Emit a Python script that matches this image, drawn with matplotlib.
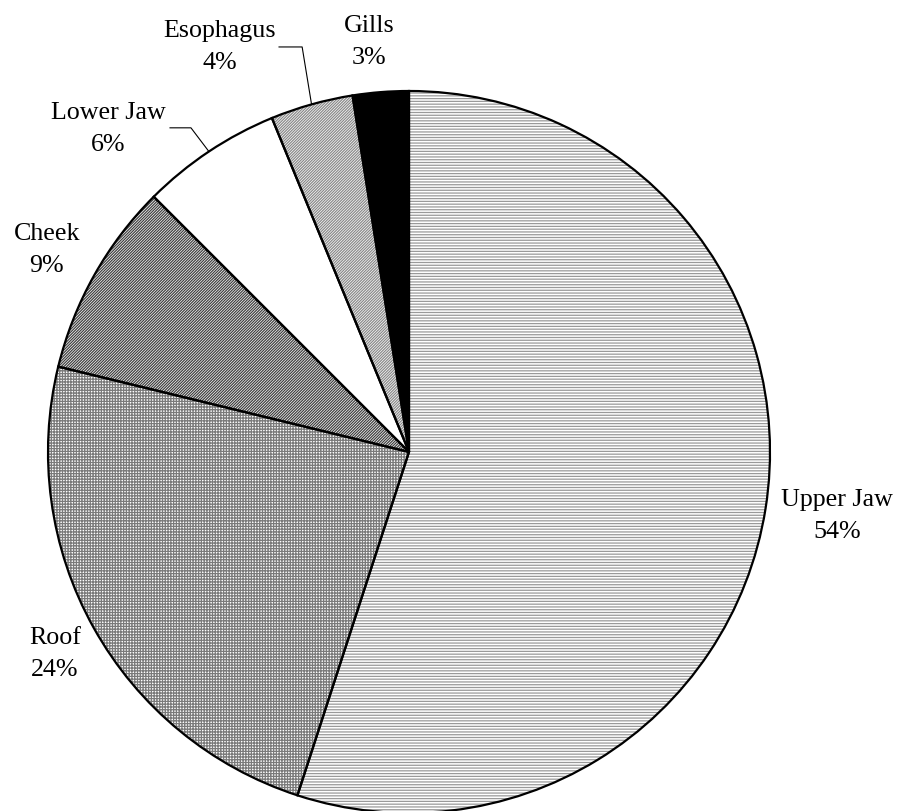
import matplotlib
matplotlib.use("Agg")
import matplotlib.pyplot as plt
import numpy as np

# feeding site shares
sites = ["Upper Jaw", "Roof", "Cheek", "Lower Jaw", "Esophagus", "Gills"]
shares = [55.0, 23.8, 8.7, 6.3, 3.7, 2.5]
pct_labels = ["54%", "24%", "9%", "6%", "4%", "3%"]

hatches = ["------", "++++++", "/" * 12, None, "/" * 12, None]
hatch_colors = ["#9a9a9a", "#7a7a7a", "#404040", "white", "#8a8a8a", "black"]
faces = ["white", "white", "white", "white", "white", "black"]

plt.rcParams['font.family'] = ['Liberation Serif', 'DejaVu Serif']
plt.rcParams['hatch.linewidth'] = 0.9

fig = plt.figure(figsize=(9.01, 8.11), dpi=100)
ax = fig.add_axes([0, 0, 1, 1])

# fill + hatch layer
wedges, _ = ax.pie(shares, startangle=90, counterclock=False, radius=1,
                   colors=faces, hatch=hatches,
                   wedgeprops=dict(linewidth=0))
for w, hc in zip(wedges, hatch_colors):
    w.set_edgecolor(hc)
    w.set_linewidth(0)

# outline layer
ax.pie(shares, startangle=90, counterclock=False, radius=1,
       colors=["none"] * len(shares),
       wedgeprops=dict(linewidth=1.6, edgecolor="black", fill=False))

# label centres (data units, pie radius = 1)
label_pos = {
    "Upper Jaw": (1.186, -0.177),
    "Roof": (-0.981, -0.560),
    "Cheek": (-1.003, 0.560),
    "Lower Jaw": (-0.834, 0.895),
    "Esophagus": (-0.524, 1.122),
    "Gills": (-0.111, 1.136),
}
# leader line starts for the small slices
leaders = {
    "Lower Jaw": [(-0.662, 0.898), (-0.604, 0.898)],
    "Esophagus": [(-0.360, 1.122), (-0.296, 1.122)],
}

for name, pct, w in zip(sites, pct_labels, wedges):
    x, y = label_pos[name]
    ax.text(x, y, name + "\n" + pct, ha="center", va="center",
            fontsize=18.7, linespacing=1.62)
    if name in leaders:
        mid = np.deg2rad((w.theta1 + w.theta2) / 2)
        pts = leaders[name] + [(np.cos(mid), np.sin(mid))]
        xs, ys = zip(*pts)
        ax.plot(xs, ys, color="black", lw=0.8)

cx, cy, r = 409, 452, 361
ax.set_xlim(-cx / r, (901 - cx) / r)
ax.set_ylim(-(811 - cy) / r, cy / r)
ax.set_aspect("equal")
ax.axis("off")

fig.savefig("out.png", dpi=100)
